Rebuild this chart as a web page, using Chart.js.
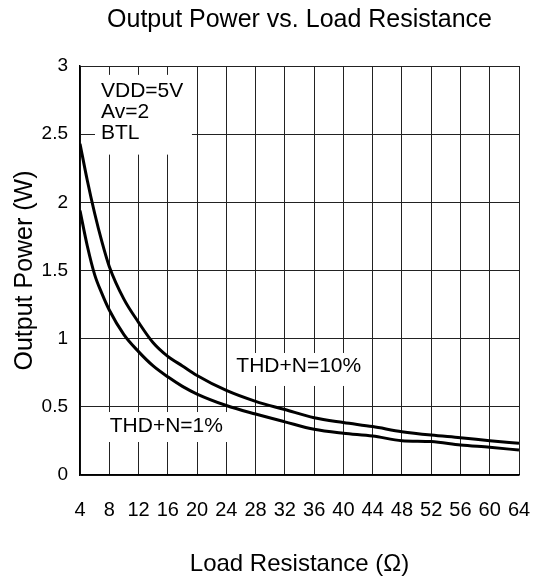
<!DOCTYPE html>
<html>
<head>
<meta charset="utf-8">
<script src="https://cdn.jsdelivr.net/npm/chart.js@4.4.1/dist/chart.umd.min.js"></script>
<style>
  html, body { margin: 0; padding: 0; background: #fff; }
</style>
</head>
<body>
<canvas id="chart" width="535" height="582"></canvas>
<script>
// ===== DATA =====
const loadOhms   = [4, 5, 6, 7, 8, 10, 12, 14, 16, 18, 20, 24, 28, 32, 36, 40, 44, 48, 52, 56, 60, 64];
const powerThd10 = [2.43, 2.16, 1.92, 1.71, 1.53, 1.29, 1.12, 0.97, 0.87, 0.8, 0.73, 0.62, 0.54, 0.48, 0.42, 0.385, 0.355, 0.318, 0.293, 0.274, 0.252, 0.232];
const powerThd1  = [1.94, 1.68, 1.47, 1.33, 1.21, 1.03, 0.905, 0.8, 0.72, 0.65, 0.594, 0.51, 0.447, 0.39, 0.335, 0.306, 0.286, 0.252, 0.245, 0.22, 0.203, 0.183];
const xTicks = [4, 8, 12, 16, 20, 24, 28, 32, 36, 40, 44, 48, 52, 56, 60, 64];
const yTicks = [0, 0.5, 1, 1.5, 2, 2.5, 3];
const condLines = ["VDD=5V", "Av=2", "BTL"];
const curveLabels = ["THD+N=10%", "THD+N=1%"];

const FONT = "'Liberation Sans', Arial, sans-serif";

// ===== NOTES PLUGIN (white boxes + text over grid) =====
const notesPlugin = {
    id: "notes",
    beforeDatasetsDraw(chart) {
        const ctx = chart.ctx;
        const xs = chart.scales.x, ys = chart.scales.y;
        const boxes = [
            { x0: 6.05, x1: 19.3, y0: 2.935, y1: 2.35 },
            { x0: 24.6, x1: 43.2, y0: 0.895, y1: 0.653 },
            { x0: 7.4, x1: 24.4, y0: 0.462, y1: 0.242 }
        ];
        ctx.save();
        ctx.fillStyle = "#fff";
        boxes.forEach(b => {
            const l = xs.getPixelForValue(b.x0), r = xs.getPixelForValue(b.x1);
            const t = ys.getPixelForValue(b.y0), bt = ys.getPixelForValue(b.y1);
            ctx.fillRect(l, t, r - l, bt - t);
        });

        ctx.fillStyle = "#000";
        ctx.font = "21px " + FONT;
        ctx.textBaseline = "middle";
        ctx.textAlign = "left";
        const condY = [2.817, 2.663, 2.509];
        condLines.forEach((s, i) => {
            ctx.fillText(s, xs.getPixelForValue(6.87), ys.getPixelForValue(condY[i]));
        });
        ctx.textAlign = "center";
        ctx.fillText(curveLabels[0], xs.getPixelForValue(33.9), ys.getPixelForValue(0.8));
        ctx.fillText(curveLabels[1], xs.getPixelForValue(15.8), ys.getPixelForValue(0.36));
        ctx.restore();
    }
};

// ===== CHART =====
new Chart(document.getElementById("chart"), {
    type: "line",
    data: {
        labels: loadOhms,
        datasets: [
            { data: loadOhms.map((x, i) => ({ x: x, y: powerThd10[i] })) },
            { data: loadOhms.map((x, i) => ({ x: x, y: powerThd1[i] })) }
        ]
    },
    options: {
        responsive: false,
        animation: false,
        devicePixelRatio: 1,
        layout: { padding: { left: 0, right: 16, top: 0, bottom: 0 } },
        elements: {
            line: { borderColor: "#000", borderWidth: 3, cubicInterpolationMode: "monotone", fill: false },
            point: { radius: 0 }
        },
        plugins: {
            legend: { display: false },
            tooltip: { enabled: false },
            title: {
                display: true,
                fullSize: false,
                text: "Output Power vs. Load Resistance",
                color: "#000",
                font: { family: FONT, size: 25, weight: "normal" },
                padding: { top: 5, bottom: 31 }
            }
        },
        scales: {
            x: {
                type: "linear",
                min: 4, max: 64,
                afterBuildTicks: s => { s.ticks = xTicks.map(v => ({ value: v })); },
                afterFit: s => { s.height = 107; s.paddingRight = 0; s.paddingLeft = 0; },
                grid: { color: "#222", lineWidth: 1, drawTicks: false },
                border: { color: "#000", width: 1.5 },
                ticks: { color: "#000", padding: 23, maxRotation: 0, autoSkip: false, font: { family: FONT, size: 20 } },
                title: {
                    display: true,
                    text: "Load Resistance (Ω)",
                    color: "#000",
                    font: { family: FONT, size: 24 },
                    padding: { top: 0, bottom: 3 }
                }
            },
            y: {
                min: 0, max: 3,
                afterBuildTicks: s => { s.ticks = yTicks.map(v => ({ value: v })); },
                afterFit: s => { s.width = 80; },
                grid: { color: "#222", lineWidth: 1, drawTicks: false },
                border: { color: "#000", width: 1.5 },
                ticks: { color: "#000", padding: 12, font: { family: FONT, size: 19 }, callback: v => String(v) },
                title: {
                    display: true,
                    text: "Output Power (W)",
                    color: "#000",
                    font: { family: FONT, size: 25 },
                    padding: { top: 10, bottom: 0 }
                }
            }
        }
    },
    plugins: [notesPlugin]
});
</script>
</body>
</html>
